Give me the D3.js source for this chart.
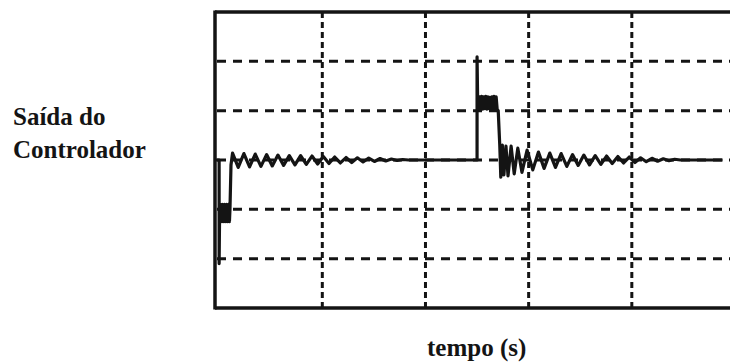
<!DOCTYPE html>
<html>
<head>
<meta charset="utf-8">
<script src="https://cdn.jsdelivr.net/npm/d3@7"></script>
<style>
  html, body { margin: 0; padding: 0; background: #fff; }
  svg { display: block; }
  svg text { font-family: 'Liberation Serif', 'DejaVu Serif', serif; font-weight: bold; font-size: 25px; }
</style>
</head>
<body>
<div id="chart"></div>
<script>
// grid divisions (tempo: 10 per div, saida: 10 per div)
const xGrid = [10, 20, 30, 40];
const yGrid = [10, 20, 30, 40, 50];

const yLabel = ['Saída do', 'Controlador'];
const xLabel = 'tempo (s)';

const tempo = [
  -0.3, 0, 0, 0.05, 0.1, 0.2, 0.3, 0.4, 0.5, 0.6, 0.7, 0.8, 0.9, 1.0, 1.05,
  1.15, 1.3, 1.85, 2.4, 2.95, 3.5, 4.05, 4.6, 5.15, 5.7, 6.25, 6.8, 7.35, 7.9,
  8.45, 9.0, 9.55, 10.1, 10.65, 11.2, 11.75, 12.3, 12.85, 13.4, 13.95, 14.5,
  15.05, 15.6, 16.15, 16.7, 17.25, 17.8, 18.35,
  25.0, 25.0, 25.05, 25.15, 25.25, 25.35, 25.45, 25.55, 25.65, 25.75, 25.85, 25.95,
  26.05, 26.15, 26.25, 26.35, 26.45, 26.55, 26.65, 26.75, 26.85, 26.95, 27.05,
  27.2, 27.3, 27.45, 27.6, 27.8, 28.0, 28.3, 28.6, 28.95, 29.35, 29.85, 30.4,
  30.95, 31.5, 32.05, 32.6, 33.15, 33.7, 34.25, 34.8, 35.35, 35.9, 36.45, 37.0,
  37.55, 38.1, 38.65, 39.2, 39.75, 40.3, 40.85, 41.4, 41.95, 42.5, 43.05, 43.6,
  44.15, 44.7, 48.8
];
const saida = [
  30, 30, 9, 20, 21, 17.5, 21, 17.5, 21, 17.5, 21, 17.5, 21, 17.5, 20,
  29, 31.4, 28.5, 31.3, 28.6, 31.2, 28.7, 31.1, 28.8, 31.0, 28.9, 30.9, 29.0, 30.9,
  29.1, 30.8, 29.2, 30.7, 29.3, 30.6, 29.4, 30.5, 29.5, 30.45, 29.6, 30.4,
  29.7, 30.3, 29.8, 30.2, 29.9, 30.1, 30.0,
  30.0, 50.9, 43, 40.4, 42.8, 40.3, 42.9, 40.3, 42.8, 40.4, 42.9, 40.3,
  42.8, 40.4, 42.7, 40.3, 42.8, 40.4, 42.9, 40.3, 42.8, 40.2, 40.0,
  33, 26.5, 33, 27, 32.8, 26.8, 32.8, 27.2, 32.4, 27.5, 32.0, 28.0,
  31.6, 28.3, 31.4, 28.5, 31.3, 28.7, 31.1, 28.9, 31.0, 29.0, 30.9, 29.1,
  30.8, 29.3, 30.7, 29.4, 30.6, 29.5, 30.45, 29.65, 30.35, 29.75, 30.25, 29.85,
  30.15, 30.0, 30.0
];

const width = 730, height = 362;
const ink = '#141414';

const x = d3.scaleLinear().domain([-0.4, 50]).range([215, 735]);
const y = d3.scaleLinear().domain([0, 60]).range([308, 12]);

const svg = d3.select('#chart')
  .append('svg')
  .attr('width', width)
  .attr('height', height);

// grid
svg.append('g')
  .selectAll('line')
  .data(yGrid)
  .join('line')
  .attr('x1', x(-0.4) + 2)
  .attr('x2', x(50))
  .attr('y1', d => y(d))
  .attr('y2', d => y(d))
  .attr('stroke', ink)
  .attr('stroke-width', 3)
  .attr('stroke-dasharray', '9,7');

svg.append('g')
  .selectAll('line')
  .data(xGrid)
  .join('line')
  .attr('x1', d => x(d))
  .attr('x2', d => x(d))
  .attr('y1', y(60))
  .attr('y2', y(0))
  .attr('stroke', ink)
  .attr('stroke-width', 3)
  .attr('stroke-dasharray', '6,4');

// frame (right side falls outside the picture)
const frame = svg.append('g').attr('stroke', ink).attr('fill', 'none');
frame.append('line')
  .attr('x1', x(-0.4)).attr('x2', x(-0.4))
  .attr('y1', y(60) - 1.5).attr('y2', y(0) + 1.5)
  .attr('stroke-width', 3.5);
frame.append('line')
  .attr('x1', x(-0.4)).attr('x2', x(50))
  .attr('y1', y(60)).attr('y2', y(60))
  .attr('stroke-width', 3.5);
frame.append('line')
  .attr('x1', x(-0.4)).attr('x2', x(50))
  .attr('y1', y(0)).attr('y2', y(0))
  .attr('stroke-width', 3.5);

// signal
const line = d3.line()
  .x((d, i) => x(tempo[i]))
  .y(d => y(d));

svg.append('path')
  .datum(saida)
  .attr('d', line)
  .attr('fill', 'none')
  .attr('stroke', ink)
  .attr('stroke-width', 3.2)
  .attr('stroke-linejoin', 'round');

// labels
svg.append('text')
  .attr('x', 13)
  .attr('y', 125)
  .attr('fill', ink)
  .text(yLabel[0]);
svg.append('text')
  .attr('x', 13)
  .attr('y', 158)
  .attr('fill', ink)
  .text(yLabel[1]);

svg.append('text')
  .attr('x', 427)
  .attr('y', 356)
  .attr('fill', ink)
  .text(xLabel);
</script>
</body>
</html>
